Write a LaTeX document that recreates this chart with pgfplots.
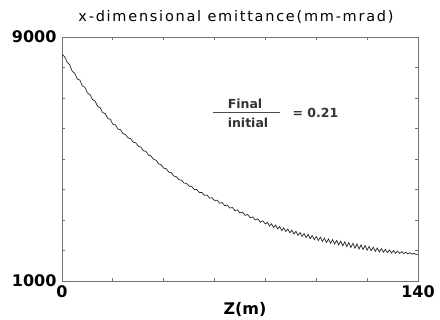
\documentclass[border=0pt]{standalone}
\usepackage{fontspec}
\setmainfont{DejaVu Sans}
\usepackage{pgfplots}
\pgfplotsset{compat=1.18}
\usepackage{pgfplotstable}

% Emittance along the beamline: z (m) versus x-emittance (mm-mrad)
\pgfplotstableread{
z     eps
0     8430
1     8360
2     8180
3     8090
4     7880
5     7810
6     7620
7     7590
8     7400
9     7350
10    7170
11    7110
12    6950
13    6900
14    6730
15    6680
16    6520
17    6490
18    6330
19    6300
20    6140
21    6120
22    5980
23    5960
24    5830
25    5800
26    5690
27    5670
28    5550
29    5530
30    5420
31    5390
32    5270
33    5250
34    5130
35    5100
36    4990
37    4960
38    4840
39    4810
40    4700
41    4680
42    4570
43    4550
44    4440
45    4420
46    4320
47    4310
48    4210
49    4200
50    4110
51    4100
52    4000
53    4000
54    3900
55    3900
56    3810
57    3820
58    3720
59    3730
60    3640
61    3650
62    3550
63    3570
64    3470
65    3490
66    3390
67    3410
68    3310
69    3330
70    3230
71    3260
72    3150
73    3180
74    3070
75    3100
76    3000
77    3040
78    2930
79    2970
80    2870
80.8  2926
81.6  2802
82.4  2873
83.2  2754
84.0  2835
84.8  2706
85.6  2784
86.4  2658
87.2  2743
88.0  2622
88.8  2706
89.6  2580
90.4  2665
91.2  2541
92.0  2627
92.8  2498
93.6  2589
94.4  2459
95.2  2551
96.0  2425
96.8  2524
97.6  2388
98.4  2492
99.2  2356
100.0 2460
100.8 2326
101.6 2436
102.4 2297
103.2 2407
104.0 2263
104.8 2379
105.6 2235
106.4 2358
107.2 2210
108.0 2332
108.8 2179
109.6 2306
110.4 2154
111.2 2286
112.0 2128
112.8 2260
113.6 2097
114.4 2235
115.2 2078
116.0 2211
116.8 2050
117.6 2184
118.4 2032
119.2 2161
120.0 2010
120.8 2134
121.6 1993
122.4 2111
123.2 1970
124.0 2084
124.8 1953
125.6 2059
126.4 1941
127.2 2038
128.0 1930
128.8 2017
129.6 1919
130.4 1997
131.2 1910
132.0 1979
132.8 1903
133.6 1961
134.4 1895
135.2 1943
136.0 1887
136.8 1926
137.6 1879
138.4 1908
139.2 1871
140.0 1885
}\emittance

\definecolor{frame}{gray}{0.45}
\newfontfamily\titlefont[LetterSpace=12]{DejaVu Sans}

\begin{document}
\begin{tikzpicture}
\useasboundingbox (0,0) rectangle (440pt,320pt);
\begin{axis}[
  at={(62pt,39pt)}, anchor=south west,
  scale only axis, width=356pt, height=244pt,
  xmin=0, xmax=140, ymin=1000, ymax=9000,
  xtick={0,20,...,140}, xticklabels={0,,,,,,,140},
  ytick={1000,2000,...,9000}, yticklabels={1000,,,,,,,,9000},
  tick align=inside, tick pos=both, major tick length=3pt,
  axis line style={frame, line width=0.9pt},
  tick style={frame, line width=0.9pt},
  /pgf/number format/assume math mode=true,
  ticklabel style={font=\fontsize{16}{16}\selectfont\bfseries},
  xticklabel style={yshift=-1pt},
  yticklabel style={xshift=-2pt},
]
\addplot[black!85, line width=0.7pt] table[x=z, y=eps] {\emittance};
\end{axis}
% title
\node[font=\titlefont\fontsize{14.5}{16}\selectfont] at (236pt,303pt) {x-dimensional emittance(mm-mrad)};
% axis label
\node[font=\fontsize{16}{16}\selectfont\bfseries] at (245pt,11pt) {Z(m)};
% ratio annotation
\node[font=\fontsize{12.5}{13}\selectfont\bfseries, text=black!80] at (245pt,216pt) {Final};
\draw[black!70, line width=1pt] (213pt,207pt) -- (280pt,207pt);
\node[font=\fontsize{12.5}{13}\selectfont\bfseries, text=black!80] at (248pt,197pt) {initial};
\node[font=\fontsize{12.5}{13}\selectfont\bfseries, text=black!80, anchor=west] at (289pt,207pt) {=\ 0.21};
\end{tikzpicture}
\end{document}
